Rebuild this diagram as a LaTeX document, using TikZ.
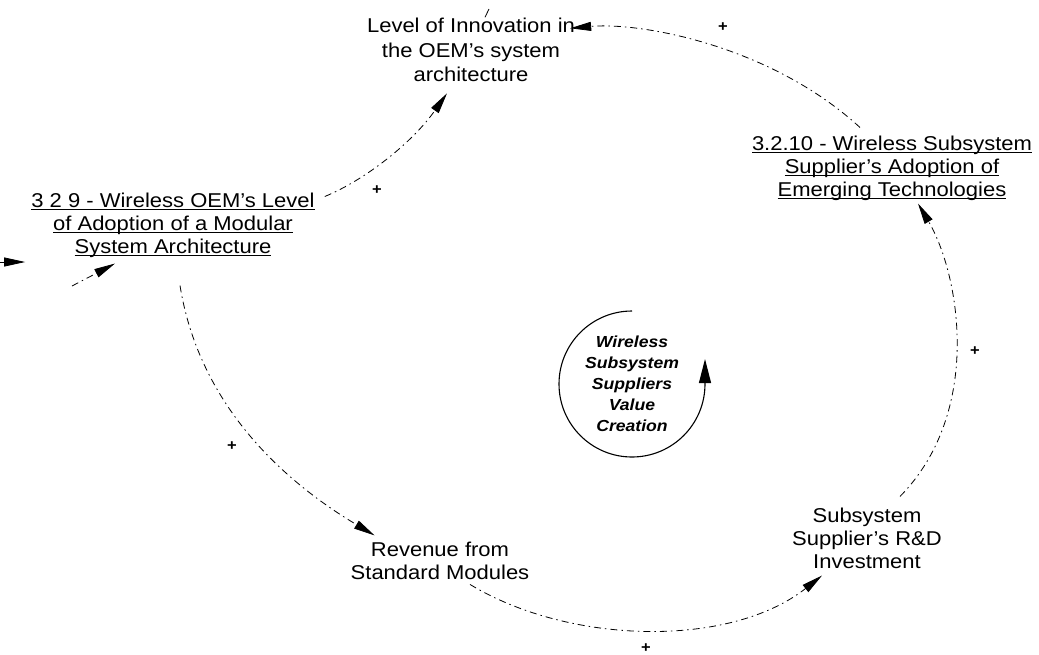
\documentclass[tikz,border=0pt]{standalone}
\usepackage{fontspec}
\setmainfont{Liberation Sans}[FakeStretch=1.1]
\usetikzlibrary{arrows.meta,calc}

% underline one line of a label, just below the baseline
\newsavebox\ulinebox
\newcommand\ulined[1]{\sbox\ulinebox{#1}\rlap{\rule[-3.2pt]{\wd\ulinebox}{0.9pt}}\usebox\ulinebox}

\tikzset{
  var/.style={align=center, inner sep=0pt, font=\fontsize{20}{23}\selectfont},
  link/.style={line width=0.8pt, dash pattern=on 7pt off 4pt on 1.5pt off 4pt,
    -{Triangle[length=21pt,width=9pt]}},
  polarity/.style={inner sep=0pt, font=\fontsize{15}{15}\selectfont\bfseries},
  loopname/.style={align=center, inner sep=0pt, font=\fontsize{16}{21}\selectfont\bfseries\itshape},
  loopline/.style={line width=1.1pt, -{Triangle[length=24pt,width=12pt]}},
}

\begin{document}
\begin{tikzpicture}[x=1pt,y=-1pt]
\useasboundingbox (0,0) rectangle (1039,654);

% variables
\node[var, font=\fontsize{20}{24.5}\selectfont] (lev) at (471,50.3)
  {Level of Innovation in\\the OEM's system\\architecture};
\node[var] (n3210) at (892,168)
  {\ulined{3.2.10 - Wireless Subsystem}\\\ulined{Supplier's Adoption of}\\\ulined{Emerging Technologies}};
\node[var] (n329) at (173,225)
  {\ulined{3 2 9 - Wireless OEM's Level}\\\ulined{of Adoption of a Modular}\\\ulined{System Architecture}};
\node[var] (rev) at (440,560.4) {Revenue from\\Standard Modules};
\node[var] (rd) at (867,538) {Subsystem\\Supplier's R\&D\\Investment};

% loop identifier
\node[loopname] (loop) at (632,384) {Wireless\\Subsystem\\Suppliers\\Value\\Creation};
\draw[loopline] ($(loop.center)+(0,-73)$) arc[start angle=270, end angle=0, radius=73] -- ++(0,-25);

% causal links
\draw[link] ([shift={(10,4)}]n329.north east) .. controls (365,180) and (412,143) .. ([shift={(-24,11)}]lev.south);
\draw[link] ([shift={(-32,-8)}]n3210.north) .. controls (770,45) and (640,22) .. ([shift={(-5,10)}]lev.north east);
\draw[link] ([shift={(7,28)}]n329.south) .. controls (200,410) and (290,485) .. ([shift={(24,-6)}]rev.north west);
\draw[link] ([shift={(30,5)}]rev.south) .. controls (570,645) and (730,648) .. ([shift={(-45,7)}]rd.south);
\draw[link] ([shift={(33,-11)}]rd.north) .. controls (983,412) and (960,275) .. ([shift={(26,3)}]n3210.south);

% links entering from outside the view
\coordinate (leftin) at (0,262);
\coordinate (lowin) at (72,286);
\coordinate (levout) at (489,9);
\draw[link] (leftin) -- ([shift={(-6,37)}]n329.west);
\draw[link] (lowin) -- ([shift={(-58,6)}]n329.south);
\draw[line width=0.8pt] ([shift={(14,-1)}]lev.north) -- (levout);

% link polarities
\node[polarity] (p1) at (377,190) {+};
\node[polarity] (p2) at (723,27) {+};
\node[polarity] (p3) at (975,351) {+};
\node[polarity] (p4) at (232,446) {+};
\node[polarity] (p5) at (646,648) {+};
\end{tikzpicture}
\end{document}
